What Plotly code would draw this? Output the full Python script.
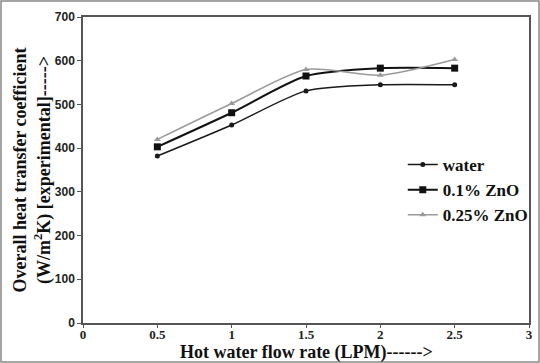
import plotly.graph_objects as go

flow_rate = [0.5, 1.0, 1.5, 2.0, 2.5]
water = [382, 453, 531, 545, 545]
zno_01 = [403, 481, 565, 583, 583]
zno_025 = [420, 502, 580, 567, 603]

series = [
    ("water", water, dict(color="#1a1a1a", width=1.5), dict(symbol="circle", size=5, color="#1a1a1a")),
    ("0.1% ZnO", zno_01, dict(color="#111111", width=2), dict(symbol="square", size=7, color="#111111")),
    ("0.25% ZnO", zno_025, dict(color="#9a9a9a", width=1.5), dict(symbol="triangle-up", size=6, color="#9a9a9a")),
]

fig = go.Figure()
for name, vals, line, marker in series:
    fig.add_trace(go.Scatter(
        x=flow_rate, y=vals, name=name, mode="lines+markers",
        line=dict(shape="spline", smoothing=0.7, **line), marker=marker,
    ))

W, H = 540, 363
ml, mr, mt, mb = 83, 11, 17, 40
pw, ph = W - ml - mr, H - mt - mb

fig.update_layout(
    width=W, height=H,
    margin=dict(l=ml, r=mr, t=mt, b=mb, autoexpand=False),
    paper_bgcolor="white", plot_bgcolor="white",
    showlegend=True,
    legend=dict(
        x=0.717, y=0.575, xanchor="left", yanchor="top",
        font=dict(family="Liberation Serif", size=17, color="#111", weight="bold"),
        bgcolor="rgba(0,0,0,0)", itemwidth=30, tracegroupgap=0,
    ),
    xaxis=dict(
        range=[0, 3], dtick=0.5, showgrid=False, zeroline=False, automargin=False,
        showline=True, linecolor="#555", linewidth=1.5, mirror=True,
        ticks="outside", ticklen=3, tickcolor="#555", ticklabelstandoff=-4,
        tickfont=dict(family="Liberation Serif", size=13, color="#222", weight="bold"),
    ),
    yaxis=dict(
        range=[0, 700], dtick=100, showgrid=False, zeroline=False, automargin=False,
        showline=True, linecolor="#555", linewidth=1.5, mirror=True,
        ticks="outside", ticklen=4, tickcolor="#555", ticklabelstandoff=0,
        tickfont=dict(family="Liberation Sans", size=12, color="#222", weight="bold"),
        title=dict(text="<b>Overall heat transfer coefficient<br>(W/m<sup>2</sup>K) [experimental]-----></b>",
                   standoff=0,
                   font=dict(family="Liberation Serif", size=18, color="#111")),
    ),
    annotations=[dict(
        text="<b>Hot water flow rate (LPM)------></b>",
        xref="paper", yref="paper", x=0.5, y=-29 / ph,
        xanchor="center", yanchor="middle", showarrow=False,
        font=dict(family="Liberation Serif", size=18, color="#111"),
    )],
    shapes=[dict(
        type="rect", xref="paper", yref="paper",
        x0=-(ml - 1) / pw, x1=1 + (mr - 1) / pw,
        y0=-(mb - 1) / ph, y1=1 + (mt - 1) / ph,
        line=dict(color="#888", width=1.5), layer="below",
    )],
)

fig.write_html("out.html")
